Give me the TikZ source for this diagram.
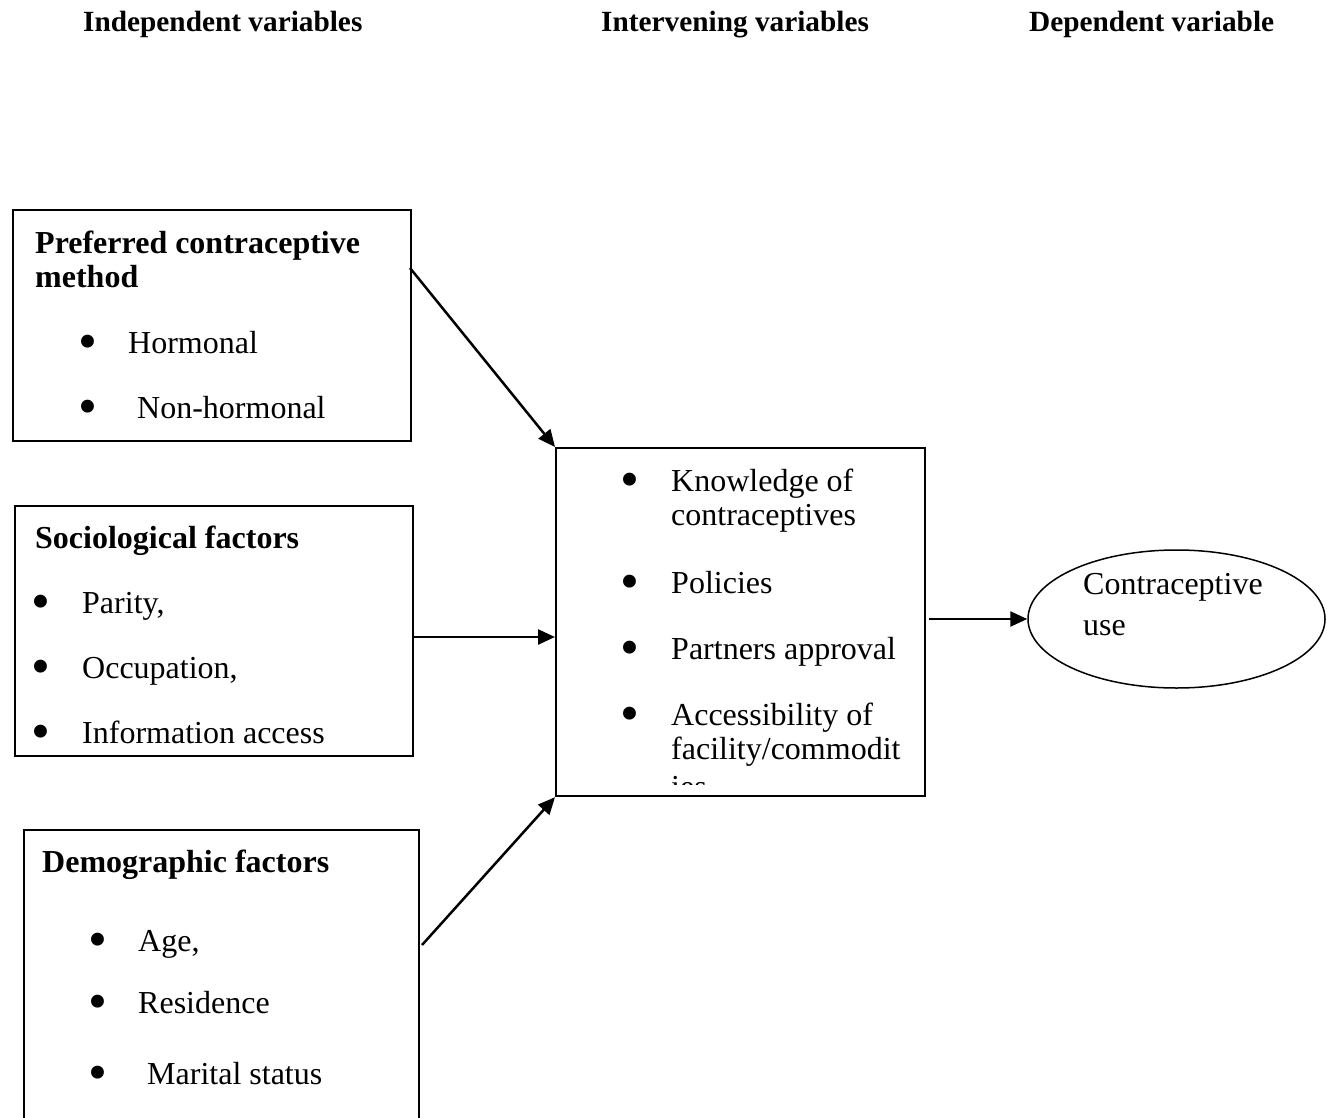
\documentclass[tikz,border=0pt]{standalone}
\usepackage{fontspec}
\setmainfont{Liberation Serif}
\usetikzlibrary{shapes.geometric,arrows.meta,calc}
\begin{document}
\begin{tikzpicture}[x=1pt,y=-1pt,
 box/.style={draw,line width=2.2pt,inner sep=0,anchor=north west},
 hd/.style={anchor=base west,inner sep=0,font=\fontsize{29.3}{35}\selectfont\bfseries},
 ttl/.style={anchor=base west,inner sep=0,font=\fontsize{32}{38}\selectfont\bfseries},
 txt/.style={anchor=base west,inner sep=0,font=\fontsize{32}{38}\selectfont},
 bul/.style={anchor=base,inner sep=0,font=\fontsize{54}{58}\selectfont},
 arr/.style={line width=2.5pt,-{Triangle[length=17pt,width=15pt]}}]
\clip (0,0) rectangle (1327,1118);
\fill[white] (0,0) rectangle (1327,1118);
% headings
\node[hd] (h1) at (83,32) {Independent variables};
\node[hd] (h2) at (601,32) {Intervening variables};
\node[hd] (h3) at (1029,32) {Dependent variable};
% box 1
\node[box,minimum width=398pt,minimum height=231pt] (b1) at (12,209) {};
\node[ttl] (t1a) at (35,253) {Preferred contraceptive};
\node[ttl] (t1b) at (35,287) {method};
\node[bul] (u1a) at (88,359) {\textbullet};
\node[txt] (l1a) at (128,353) {Hormonal};
\node[bul] (u1b) at (88,424) {\textbullet};
\node[txt] (l1b) at (137,418) {Non-hormonal};
% box 2
\node[box,minimum width=398pt,minimum height=250pt] (b2) at (14,505) {};
\node[ttl] (t2) at (35,548) {Sociological factors};
\node[bul] (u2a) at (41,619) {\textbullet};
\node[txt] (l2a) at (82,613) {Parity,};
\node[bul] (u2b) at (41,684) {\textbullet};
\node[txt] (l2b) at (82,678) {Occupation,};
\node[bul] (u2c) at (41,749) {\textbullet};
\node[txt] (l2c) at (82,743) {Information access};
% box 3
\node[box,minimum width=395pt,minimum height=320pt] (b3) at (23,829) {};
\node[ttl] (t3) at (42,872) {Demographic factors};
\node[bul] (u3a) at (98,957) {\textbullet};
\node[txt] (l3a) at (138,951) {Age,};
\node[bul] (u3b) at (98,1019) {\textbullet};
\node[txt] (l3b) at (138,1013) {Residence};
\node[bul] (u3c) at (98,1090) {\textbullet};
\node[txt] (l3c) at (147,1084) {Marital status};
% middle box
\node[box,minimum width=369pt,minimum height=348pt] (mid) at (555,447) {};
\node[bul] (um1) at (630,497) {\textbullet};
\node[txt] (m1a) at (671,491) {Knowledge of};
\node[txt] (m1b) at (671,525) {contraceptives};
\node[bul] (um2) at (630,599) {\textbullet};
\node[txt] (m2) at (671,593) {Policies};
\node[bul] (um3) at (630,665) {\textbullet};
\node[txt] (m3) at (671,659) {Partners approval};
\node[bul] (um4) at (630,731) {\textbullet};
\node[txt] (m4a) at (671,725) {Accessibility of};
\node[txt] (m4b) at (671,759) {facility/commodit};
\begin{scope}
\clip (557,700) rectangle (922,784);
\node[txt] (m4c) at (671,797) {ies};
\end{scope}
% ellipse
\node[draw,ellipse,line width=1.5pt,minimum width=297pt,minimum height=138pt,inner sep=0] (ell) at (1176.5,619) {};
\node[txt] (e1) at (1083,594) {Contraceptive};
\node[txt] (e2) at (1083,635) {use};
% connectors
\coordinate (s1) at (410,268);
\coordinate (s2) at (412,637);
\coordinate (e2p) at (555,637);
\coordinate (s3) at (422,945);
\coordinate (s4) at (929,619);
\draw[arr] (s1) -- (mid.north west);
\draw[arr] (s2) -- (e2p);
\draw[arr] (s3) -- (mid.south west);
\draw[arr] (s4) -- (ell.west);
\end{tikzpicture}
\end{document}
